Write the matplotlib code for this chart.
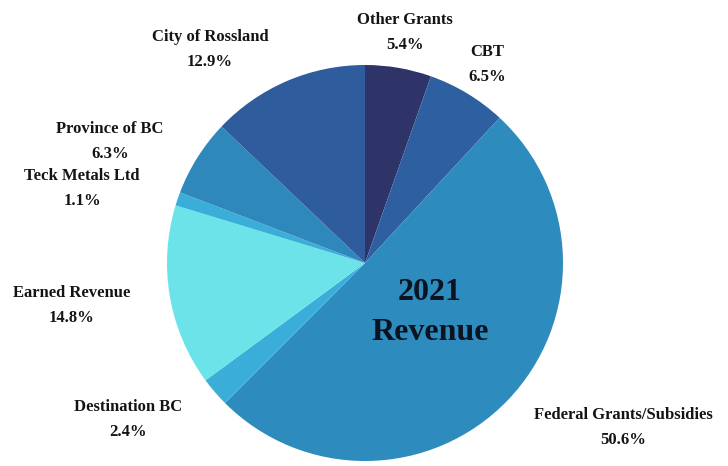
import matplotlib
matplotlib.use('Agg')
import matplotlib.pyplot as plt

# 2021 revenue shares, clockwise from 12 o'clock
labels = ['Other Grants', 'CBT', 'Federal Grants/Subsidies', 'Destination BC',
          'Earned Revenue', 'Teck Metals Ltd', 'Province of BC', 'City of Rossland']
shares = [5.4, 6.5, 50.6, 2.4, 14.8, 1.1, 6.3, 12.9]
colors = ['#2e3368', '#2e5fa0', '#2e8bbd', '#3aaed8',
          '#6ce3e8', '#3aaed8', '#2f88bb', '#2e5c9c']

# label anchor points (pixel coords, y measured from the top)
label_pos = [(405, 20), (487, 52), (623, 415), (128, 407),
             (72, 293), (82, 176), (110, 129), (210, 37)]

W, H = 728, 466
fig = plt.figure(figsize=(W / 100, H / 100), dpi=100)
ax = fig.add_axes([0, 0, 1, 1])

cx, cy, r = 365, H - 263, 198
ax.pie(shares, colors=colors, startangle=90, counterclock=False,
       center=(cx, cy), radius=r, frame=True,
       wedgeprops=dict(linewidth=0))
ax.set_xlim(0, W)
ax.set_ylim(0, H)
ax.set_aspect('equal')
ax.axis('off')

font = 'Liberation Serif'
for lab, val, (x, y) in zip(labels, shares, label_pos):
    ax.text(x, H - y, lab, ha='center', va='center', fontsize=12,
            fontweight='bold', family=font, color='#141414')
    ax.text(x, H - y - 25, f'{val}%', ha='center', va='center', fontsize=12,
            fontweight='bold', family=font, color='#141414')

ax.text(430, H - 292, '2021', ha='center', va='center', fontsize=23,
        fontweight='bold', family=font, color='#0b1320')
ax.text(430, H - 333, 'Revenue', ha='center', va='center', fontsize=23,
        fontweight='bold', family=font, color='#0b1320')

fig.savefig('out.png', dpi=100)
